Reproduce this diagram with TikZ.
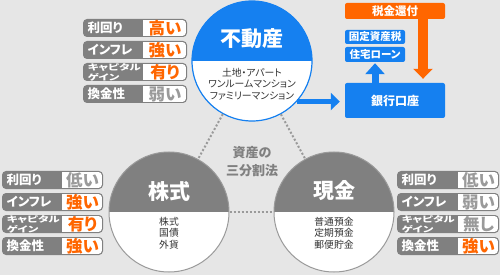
\documentclass[tikz,border=0pt]{standalone}
\usepackage{graphicx}
\usepackage{fontspec}
\setmainfont{Noto Sans CJK JP}[RawFeature=+palt]
\usetikzlibrary{arrows.meta}
\definecolor{bgC}{HTML}{E6E6E6}
\definecolor{blueC}{HTML}{1580F0}
\definecolor{orangeC}{HTML}{FF6600}
\definecolor{grayC}{HTML}{808080}
\definecolor{lgrayC}{HTML}{9A9A9A}
\definecolor{txtC}{HTML}{333333}
\newcommand\capg{\scalebox{1.05}[0.74]{\shortstack[l]{キャピタル\\ゲイン}}}
\newcommand\tabrow[9]{%
 \fill[grayC, rounded corners=4pt] (#2,#5) rectangle (#4,#5+18);
 \fill[white, rounded corners=3pt] (#3,#5+1.2) rectangle (#4-1.2,#5+16.8);
 \fill[white] (#3,#5+1.2) rectangle (#3+5,#5+16.8);
 \node[lab,#9] (#1l) at (#2+4.5,#5+9) {#6};
 \node[val,text=#8] (#1v) at ({(#3+#4)/2},#5+9.3) {#7};
}
\begin{document}
\begin{tikzpicture}[x=1pt,y=-1pt,
  bigcirc/.style={circle, minimum size=120pt, inner sep=0pt, fill=white},
  dotline/.style={lgrayC, line width=2pt, dash pattern=on 2pt off 2pt},
  ctitle/.style={text=white, font=\bfseries\fontsize{21}{24}\selectfont, inner sep=0pt},
  csub/.style={text=txtC, align=center, font=\fontsize{9.8}{11.5}\selectfont, inner sep=0pt},
  lab/.style={text=white, font=\bfseries\fontsize{12.5}{13}\selectfont, inner sep=0pt, anchor=west},
  val/.style={font=\bfseries\fontsize{16.5}{17}\selectfont, inner sep=0pt},
  capst/.style={font=\bfseries\fontsize{11}{10.5}\selectfont},
  bluebox/.style={fill=blueC, rounded corners=2pt, text=white, inner sep=0pt},
]
\useasboundingbox (0,0) rectangle (500,275);
\fill[bgC] (0,0) rectangle (500,275);

% circles
\node[bigcirc, draw=blueC, line width=1.2pt, path picture={\fill[blueC] (path picture bounding box.north west) rectangle (path picture bounding box.east);}] (top) at (252,61) {};
\node[bigcirc, draw=lgrayC, line width=1pt, path picture={\fill[grayC] (path picture bounding box.north west) rectangle (path picture bounding box.east);}] (stk) at (169,212) {};
\node[bigcirc, draw=lgrayC, line width=1pt, path picture={\fill[grayC] (path picture bounding box.north west) rectangle (path picture bounding box.east);}] (csh) at (334,212) {};

\draw[dotline] (top) -- (stk);
\draw[dotline] (top) -- (csh);
\draw[dotline] (stk) -- (csh);

\node[ctitle] (topT) at (252,39) {不動産};
\node[csub] (topS) at (252,84) {土地・アパート\\ワンルームマンション\\ファミリーマンション};
\node[ctitle] (stkT) at (169,191) {株式};
\node[csub] (stkS) at (169,233) {株式\\国債\\外貨};
\node[ctitle] (cshT) at (334,191) {現金};
\node[csub] (cshS) at (334,233) {普通預金\\定期預金\\郵便貯金};

\node[text=grayC, align=center, font=\bfseries\fontsize{13}{18}\selectfont, inner sep=0pt] (mid) at (252,162) {資産の\\三分割法};

% right side boxes
\node[fill=orangeC, rounded corners=2pt, text=white, inner sep=0pt, minimum width=100pt, minimum height=16pt, font=\bfseries\fontsize{11.5}{12}\selectfont] (tax) at (395,11) {税金還付};
\node[bluebox, minimum width=100pt, minimum height=35pt, font=\bfseries\fontsize{12}{12}\selectfont] (bank) at (395,100.5) {銀行口座};
\node[bluebox, minimum width=60pt, minimum height=14pt, font=\bfseries\fontsize{10.5}{11}\selectfont] (kotei) at (375,37) {固定資産税};
\node[bluebox, minimum width=60pt, minimum height=15pt, font=\bfseries\fontsize{10.5}{11}\selectfont] (loan) at (375,54.5) {住宅ローン};

% arrows
\draw[blueC, line width=5pt, -{Triangle[length=9pt,width=17pt]}, shorten >=5pt] (top.-42) -- (top.-42 -| bank.west);
\coordinate (td) at (423,18);
\draw[orangeC, line width=10pt, -{Triangle[length=10pt,width=19pt]}, shorten >=4pt] (td) -- (td |- bank.north);
\draw[blueC, line width=7pt, -{Triangle[length=11pt,width=19pt]}, shorten >=1pt] (loan.south |- bank.north) -- (loan.south);

% tables
\tabrow{ta}{83}{143}{187}{19}{利回り}{高い}{orangeC}{}
\tabrow{tb}{83}{143}{187}{41}{インフレ}{強い}{orangeC}{}
\tabrow{tc}{83}{143}{187}{63}{\capg}{有り}{orangeC}{capst}
\tabrow{td}{83}{143}{187}{85}{換金性}{弱い}{lgrayC}{}

\tabrow{la}{2}{62}{103}{171}{利回り}{低い}{lgrayC}{}
\tabrow{lb}{2}{62}{103}{193}{インフレ}{強い}{orangeC}{}
\tabrow{lc}{2}{62}{103}{215}{\capg}{有り}{orangeC}{capst}
\tabrow{ld}{2}{62}{103}{237}{換金性}{強い}{orangeC}{}

\tabrow{ra}{397}{458}{499}{171}{利回り}{低い}{lgrayC}{}
\tabrow{rb}{397}{458}{499}{193}{インフレ}{弱い}{lgrayC}{}
\tabrow{rc}{397}{458}{499}{215}{\capg}{無し}{lgrayC}{capst}
\tabrow{rd}{397}{458}{499}{237}{換金性}{強い}{orangeC}{}
\end{tikzpicture}
\end{document}
